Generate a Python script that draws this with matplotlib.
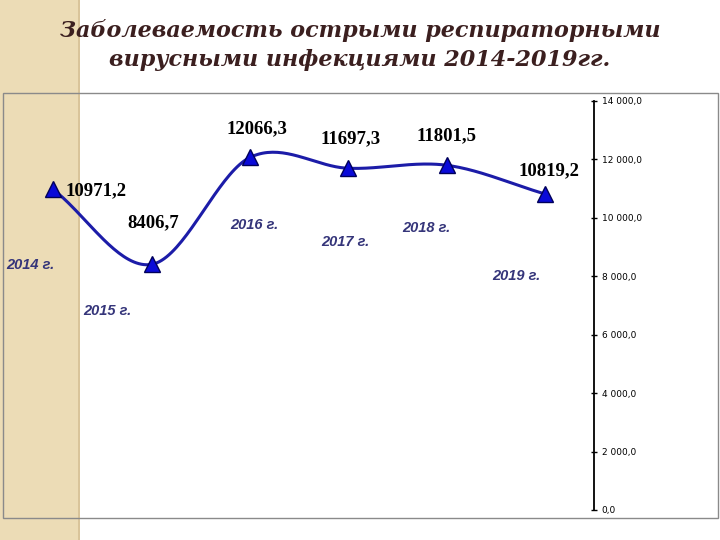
import matplotlib.pyplot as plt
import matplotlib.patches as patches
import numpy as np

years = ['2014 г.', '2015 г.', '2016 г.', '2017 г.', '2018 г.', '2019 г.']
values = [10971.2, 8406.7, 12066.3, 11697.3, 11801.5, 10819.2]
value_labels = ['10971,2', '8406,7', '12066,3', '11697,3', '11801,5', '10819,2']
y_ticks = [0, 2000, 4000, 6000, 8000, 10000, 12000, 14000]


def smooth(xs, ys, n=40):
    # catmull-rom curve through the points, like excel's smoothed line
    px = np.concatenate([[2 * xs[0] - xs[1]], xs, [2 * xs[-1] - xs[-2]]])
    py = np.concatenate([[2 * ys[0] - ys[1]], ys, [2 * ys[-1] - ys[-2]]])
    outx, outy = [], []
    t = np.linspace(0, 1, n)
    for i in range(1, len(px) - 2):
        for p, out in ((px, outx), (py, outy)):
            p0, p1, p2, p3 = p[i - 1], p[i], p[i + 1], p[i + 2]
            out.extend(0.5 * (2 * p1 + (-p0 + p2) * t
                              + (2 * p0 - 5 * p1 + 4 * p2 - p3) * t ** 2
                              + (-p0 + 3 * p1 - 3 * p2 + p3) * t ** 3))
    return np.array(outx), np.array(outy)


fig = plt.figure(figsize=(7.2, 5.4), dpi=100)
fig.patch.set_facecolor('white')

# beige strip on the left
fig.add_artist(patches.Rectangle((0, 0), 79 / 720, 1, transform=fig.transFigure,
                                 facecolor='#ecdcb6', edgecolor='none', zorder=0))
fig.add_artist(patches.Rectangle((78 / 720, 0), 1.5 / 720, 1, transform=fig.transFigure,
                                 facecolor='#d9c49a', edgecolor='none', zorder=0))
# chart frame
fig.add_artist(patches.Rectangle((3 / 720, 22 / 540), 715 / 720, 425 / 540,
                                 transform=fig.transFigure, facecolor='none',
                                 edgecolor='#8a8a8a', linewidth=1.0, zorder=1))

fig.text(0.5, 1 - 30 / 540, 'Заболеваемость острыми респираторными',
         ha='center', va='center', fontsize=16, fontweight='bold', fontstyle='italic',
         family='DejaVu Serif', color='#3b1f1f')
fig.text(0.5, 1 - 60 / 540, 'вирусными инфекциями 2014-2019гг.',
         ha='center', va='center', fontsize=16, fontweight='bold', fontstyle='italic',
         family='DejaVu Serif', color='#3b1f1f')

ax = fig.add_axes([4 / 720, 30 / 540, 590 / 720, 409 / 540])
ax.patch.set_alpha(0)

x = np.arange(len(values))
sx, sy = smooth(x.astype(float), np.array(values))
ax.plot(sx, sy, color='#1c1ca8', linewidth=2.2, zorder=3)
ax.plot(x, values, linestyle='none', marker='^', markersize=11,
        markerfacecolor='#0a0ad8', markeredgecolor='#00005a', markeredgewidth=1, zorder=4)

ax.set_xlim(-0.5, len(values) - 0.5)
ax.set_ylim(0, 14000)

for side in ('top', 'left', 'bottom'):
    ax.spines[side].set_visible(False)
ax.spines['right'].set_linewidth(1.3)
ax.yaxis.tick_right()
ax.set_xticks([])
ax.set_yticks(y_ticks)
ax.set_yticklabels(['{:,.1f}'.format(v).replace(',', ' ').replace('.', ',') for v in y_ticks],
                   fontsize=6.5, family='DejaVu Sans')
ax.tick_params(axis='y', direction='inout', length=5, width=1, pad=3)

# value labels (offsets in points from each marker)
offsets = [(31, -1), (1, 30), (5, 21), (2, 21), (0, 21), (3, 17)]
for i, (v, lab) in enumerate(zip(values, value_labels)):
    ax.annotate(lab, (i, v), xytext=offsets[i], textcoords='offset points',
                ha='center', va='center', fontsize=13.5, fontweight='bold',
                family='Liberation Serif', color='black')

# year labels
year_pos = [(30, 265), (107, 311), (254, 225), (345, 242), (426, 228), (516, 276)]
for lab, (px, py) in zip(years, year_pos):
    fig.text(px / 720, 1 - py / 540, lab, ha='center', va='center', fontsize=10.5,
             fontweight='bold', fontstyle='italic', family='Liberation Sans', color='#35357a')

fig.savefig('out.png', dpi=100)
